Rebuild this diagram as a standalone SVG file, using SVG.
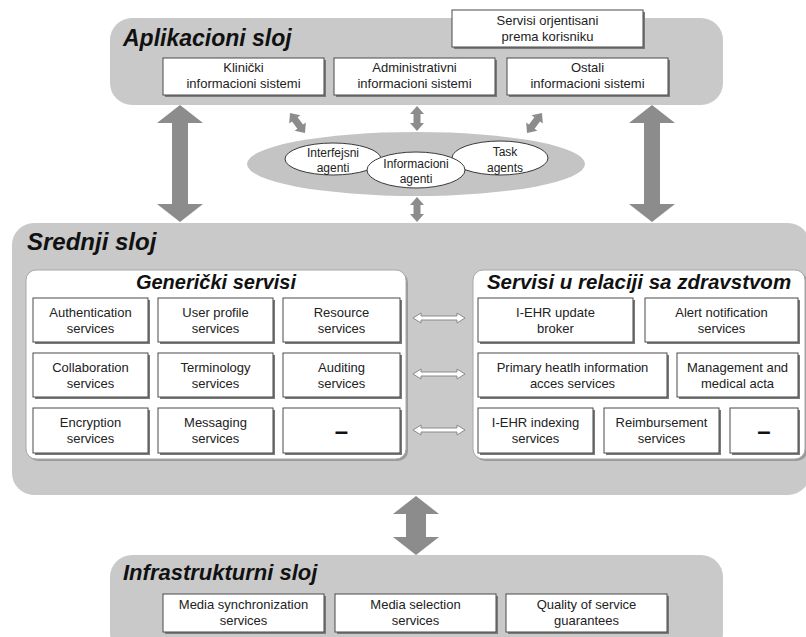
<svg xmlns="http://www.w3.org/2000/svg" xmlns:xlink="http://www.w3.org/1999/xlink" width="806" height="637" viewBox="0 0 806 637">
<style>
.band{fill:#c9c9c9}
.panel{fill:#ffffff;stroke:#a8a8a8;stroke-width:1}
.psh{fill:#9a9a9a}
.box{fill:#ffffff;stroke:#4a4a4a;stroke-width:1}
.sh{fill:#7a7a7a}
.t{font-family:"Liberation Sans",Arial,sans-serif;font-size:13px;fill:#222;text-anchor:middle}
.te{font-family:"Liberation Sans",Arial,sans-serif;font-size:12px;fill:#222;text-anchor:middle}
.dash{font-family:"Liberation Sans",Arial,sans-serif;font-size:24px;font-weight:bold;fill:#111;text-anchor:middle}
.h1{font-family:"Liberation Sans",Arial,sans-serif;font-weight:bold;font-style:italic;fill:#111}
.big{fill:#8c8c8c}
.wa{fill:#ffffff;stroke:#8a8a8a;stroke-width:1}
.ag{fill:#ffffff;stroke:#3a3a3a;stroke-width:1}
</style>
<defs>
<path id="sa" d="M0,-12.5 L7,-4.5 L3.5,-4.5 L3.5,4.5 L7,4.5 L0,12.5 L-7,4.5 L-3.5,4.5 L-3.5,-4.5 L-7,-4.5 Z"/>
</defs>

<!-- Layers -->
<g id="aplikacioni">
<rect class="band" x="110" y="18" width="613" height="87" rx="22"/>
<text class="h1" x="123" y="46" font-size="23">Aplikacioni sloj</text>
</g>
<g id="srednji">
<rect class="band" x="12" y="223" width="798" height="272" rx="22"/>
<text class="h1" x="27" y="250" font-size="24">Srednji sloj</text>
</g>
<g id="infrastrukturni">
<rect class="band" x="110" y="555" width="613" height="100" rx="22"/>
<text class="h1" x="123" y="580" font-size="22">Infrastrukturni sloj</text>
</g>

<!-- Application nodes -->
<g id="servisi-korisnik">
<rect class="sh" x="454" y="12" width="191" height="37"/>
<rect class="box" x="452" y="10" width="191" height="37"/>
<text class="t" x="547.5" y="25">Servisi orjentisani</text>
<text class="t" x="547.5" y="41">prema korisniku</text>
</g>
<g id="klinicki">
<rect class="sh" x="165" y="60" width="161" height="37"/>
<rect class="box" x="163" y="58" width="161" height="37"/>
<text class="t" x="243.5" y="72">Klinički</text>
<text class="t" x="243.5" y="88">informacioni sistemi</text>
</g>
<g id="administrativni">
<rect class="sh" x="336" y="60" width="161" height="37"/>
<rect class="box" x="334" y="58" width="161" height="37"/>
<text class="t" x="414.5" y="72">Administrativni</text>
<text class="t" x="414.5" y="88">informacioni sistemi</text>
</g>
<g id="ostali">
<rect class="sh" x="509" y="60" width="161" height="37"/>
<rect class="box" x="507" y="58" width="161" height="37"/>
<text class="t" x="587.5" y="72">Ostali</text>
<text class="t" x="587.5" y="88">informacioni sistemi</text>
</g>

<!-- Agents -->
<g id="agenti">
<ellipse cx="416" cy="164" rx="169" ry="32" fill="#c4c4c4"/>
</g>
<g id="interfejsni">
<ellipse class="ag" cx="333" cy="159" rx="48" ry="16"/>
<text class="te" x="333" y="157">Interfejsni</text>
<text class="te" x="333" y="172">agenti</text>
</g>
<g id="task">
<ellipse class="ag" cx="500" cy="158" rx="48" ry="17"/>
<text class="te" x="505" y="156">Task</text>
<text class="te" x="505" y="172">agents</text>
</g>
<g id="informacioni">
<ellipse class="ag" cx="416" cy="170" rx="49" ry="18"/>
<text class="te" x="416" y="168">Informacioni</text>
<text class="te" x="416" y="183">agenti</text>
</g>

<!-- Generic services panel -->
<g id="genericki">
<rect class="psh" x="28" y="272" width="380" height="189" rx="10"/>
<rect class="panel" x="26" y="270" width="380" height="189" rx="10"/>
<text class="h1" x="216" y="289" font-size="20" text-anchor="middle">Generički servisi</text>
</g>
<g id="authentication">
<rect class="sh" x="35" y="300" width="115" height="44"/>
<rect class="box" x="33" y="298" width="115" height="44"/>
<text class="t" x="90.5" y="317">Authentication</text>
<text class="t" x="90.5" y="333">services</text>
</g>
<g id="userprofile">
<rect class="sh" x="160" y="300" width="115" height="44"/>
<rect class="box" x="158" y="298" width="115" height="44"/>
<text class="t" x="215.5" y="317">User profile</text>
<text class="t" x="215.5" y="333">services</text>
</g>
<g id="resource">
<rect class="sh" x="285" y="300" width="117" height="44"/>
<rect class="box" x="283" y="298" width="117" height="44"/>
<text class="t" x="341.5" y="317">Resource</text>
<text class="t" x="341.5" y="333">services</text>
</g>
<g id="collaboration">
<rect class="sh" x="35" y="355" width="115" height="44"/>
<rect class="box" x="33" y="353" width="115" height="44"/>
<text class="t" x="90.5" y="372">Collaboration</text>
<text class="t" x="90.5" y="388">services</text>
</g>
<g id="terminology">
<rect class="sh" x="160" y="355" width="115" height="44"/>
<rect class="box" x="158" y="353" width="115" height="44"/>
<text class="t" x="215.5" y="372">Terminology</text>
<text class="t" x="215.5" y="388">services</text>
</g>
<g id="auditing">
<rect class="sh" x="285" y="355" width="117" height="44"/>
<rect class="box" x="283" y="353" width="117" height="44"/>
<text class="t" x="341.5" y="372">Auditing</text>
<text class="t" x="341.5" y="388">services</text>
</g>
<g id="encryption">
<rect class="sh" x="35" y="410" width="115" height="45"/>
<rect class="box" x="33" y="408" width="115" height="45"/>
<text class="t" x="90.5" y="427">Encryption</text>
<text class="t" x="90.5" y="443">services</text>
</g>
<g id="messaging">
<rect class="sh" x="160" y="410" width="115" height="45"/>
<rect class="box" x="158" y="408" width="115" height="45"/>
<text class="t" x="215.5" y="427">Messaging</text>
<text class="t" x="215.5" y="443">services</text>
</g>
<g id="generic-empty">
<rect class="sh" x="285" y="410" width="117" height="45"/>
<rect class="box" x="283" y="408" width="117" height="45"/>
<text class="dash" x="341.5" y="439">–</text>
</g>

<!-- Health services panel -->
<g id="zdravstvo">
<rect class="psh" x="475" y="272" width="332" height="189" rx="10"/>
<rect class="panel" x="473" y="270" width="332" height="189" rx="10"/>
<text class="h1" x="639" y="289" font-size="20.5" text-anchor="middle">Servisi u relaciji sa zdravstvom</text>
</g>
<g id="iehr-update">
<rect class="sh" x="480" y="300" width="155" height="44"/>
<rect class="box" x="478" y="298" width="155" height="44"/>
<text class="t" x="555.5" y="317">I-EHR update</text>
<text class="t" x="555.5" y="333">broker</text>
</g>
<g id="alert">
<rect class="sh" x="647" y="300" width="153" height="44"/>
<rect class="box" x="645" y="298" width="153" height="44"/>
<text class="t" x="721.5" y="317">Alert notification</text>
<text class="t" x="721.5" y="333">services</text>
</g>
<g id="primary">
<rect class="sh" x="480" y="355" width="189" height="44"/>
<rect class="box" x="478" y="353" width="189" height="44"/>
<text class="t" x="572.5" y="372">Primary heatlh information</text>
<text class="t" x="572.5" y="388">acces services</text>
</g>
<g id="management">
<rect class="sh" x="679" y="355" width="121" height="44"/>
<rect class="box" x="677" y="353" width="121" height="44"/>
<text class="t" x="737.5" y="372">Management and</text>
<text class="t" x="737.5" y="388">medical acta</text>
</g>
<g id="iehr-indexing">
<rect class="sh" x="480" y="410" width="115" height="45"/>
<rect class="box" x="478" y="408" width="115" height="45"/>
<text class="t" x="535.5" y="427">I-EHR indexing</text>
<text class="t" x="535.5" y="443">services</text>
</g>
<g id="reimbursement">
<rect class="sh" x="606" y="410" width="115" height="45"/>
<rect class="box" x="604" y="408" width="115" height="45"/>
<text class="t" x="661.5" y="427">Reimbursement</text>
<text class="t" x="661.5" y="443">services</text>
</g>
<g id="health-empty">
<rect class="sh" x="732" y="410" width="68" height="45"/>
<rect class="box" x="730" y="408" width="68" height="45"/>
<text class="dash" x="764" y="439">–</text>
</g>

<!-- Infrastructure nodes -->
<g id="media-sync">
<rect class="sh" x="165" y="596" width="161" height="38"/>
<rect class="box" x="163" y="594" width="161" height="38"/>
<text class="t" x="243.5" y="609">Media synchronization</text>
<text class="t" x="243.5" y="625">services</text>
</g>
<g id="media-selection">
<rect class="sh" x="337" y="596" width="161" height="38"/>
<rect class="box" x="335" y="594" width="161" height="38"/>
<text class="t" x="415.5" y="609">Media selection</text>
<text class="t" x="415.5" y="625">services</text>
</g>
<g id="qos">
<rect class="sh" x="508" y="596" width="161" height="38"/>
<rect class="box" x="506" y="594" width="161" height="38"/>
<text class="t" x="586.5" y="609">Quality of service</text>
<text class="t" x="586.5" y="625">guarantees</text>
</g>

<!-- Connectors -->
<g id="connectors">
<path class="big" d="M180,105 L203,123 L188,123 L188,204 L203,204 L180,222 L157,204 L172,204 L172,123 L157,123 Z"/>
<path class="big" d="M652,105 L675,123 L660,123 L660,204 L675,204 L652,222 L629,204 L644,204 L644,123 L629,123 Z"/>
<path class="big" d="M416,496 L439,514 L426,514 L426,537 L439,537 L416,555 L393,537 L406,537 L406,514 L393,514 Z"/>
<use href="#sa" class="big" transform="translate(417,118.5)"/>
<use href="#sa" class="big" transform="translate(417,209.5)"/>
<use href="#sa" class="big" transform="translate(297.5,123) rotate(-36.87)"/>
<use href="#sa" class="big" transform="translate(534.5,123) rotate(36.87)"/>
<path class="wa" d="M413,318 L421,313 L421,316 L457,316 L457,313 L465,318 L457,323 L457,320 L421,320 L421,323 Z"/>
<path class="wa" d="M413,374 L421,369 L421,372 L457,372 L457,369 L465,374 L457,379 L457,376 L421,376 L421,379 Z"/>
<path class="wa" d="M413,430 L421,425 L421,428 L457,428 L457,425 L465,430 L457,435 L457,432 L421,432 L421,435 Z"/>
</g>
</svg>
